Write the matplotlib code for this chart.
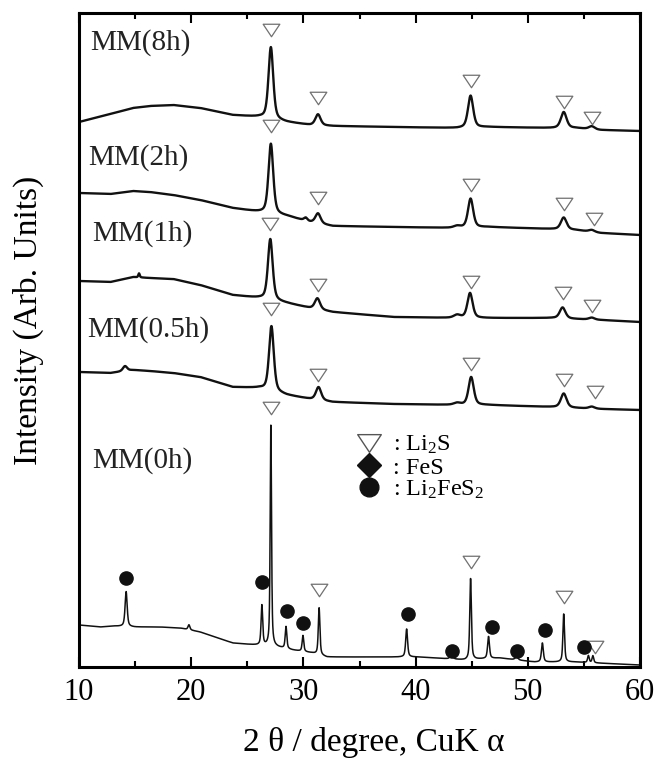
import numpy as np
import matplotlib.pyplot as plt
from matplotlib.lines import Line2D
from matplotlib.path import Path

plt.rcParams.update({
    "font.family": "Liberation Serif",
    "mathtext.fontset": "custom",
    "mathtext.rm": "Liberation Serif",
    "mathtext.it": "Liberation Serif:italic",
})

# ----------------
# data (intensity in arbitrary, stacked units)
# ----------------
samples = ["MM(8h)", "MM(2h)", "MM(1h)", "MM(0.5h)", "MM(0h)"]

# background control points for the milled samples
bg_x = [10, 12.8, 14.8, 16.3, 18.4, 20.8, 23.7, 26.1, 28.5, 30.6, 32.6, 38.0, 43.7, 46.5, 52.2, 54.3, 56.5, 60]
bg_8h = [545, 553, 559, 561, 562, 559, 552, 550, 545, 542, 541, 540, 539, 540, 539, 539, 537, 536]
bg_2h = [474, 473, 476, 475, 472, 467, 459, 455, 451, 445, 441, 440, 439, 440, 438, 437, 434, 432]
bg_1h = [386, 385, 390, 389, 388, 382, 372, 369, 364, 359, 355, 350, 349, 349, 349, 348, 347, 345]
bg_05h = [295, 294, 297, 296, 294, 290, 280, 279, 272, 268, 265, 263, 262, 262, 260, 259, 258, 257]

# background of the unmilled sample
bg0_x = [10, 11.9, 13.0, 15.0, 17.2, 19.0, 20.8, 23.7, 25.7, 27.6, 29.0, 30.8, 32.1, 38.6, 40.4, 44.4, 45.7, 47.5, 50.6, 54.2, 60]
bg_0h = [42, 40, 41, 40, 40, 39, 35, 24, 22, 20, 17, 14, 10, 10, 10, 7, 8, 9, 5, 5, 2]

# peaks: (2theta, height above background, fwhm)
peaks_8h = [(27.1, 72, 0.5), (31.3, 11, 0.55), (44.9, 32, 0.55), (53.2, 16, 0.6), (55.7, 3, 0.6)]
peaks_2h = [(27.1, 70, 0.5), (30.2, 3, 0.35), (31.3, 10, 0.55), (43.7, 2, 0.7), (44.9, 29, 0.55),
            (53.2, 12, 0.6), (55.7, 2, 0.6)]
peaks_1h = [(15.35, 4, 0.15), (27.05, 61, 0.5), (31.25, 11, 0.55), (43.7, 3, 0.7), (44.85, 25, 0.55),
            (53.1, 11, 0.6), (55.7, 2, 0.6)]
peaks_05h = [(14.1, 5, 0.45), (27.15, 65, 0.5), (31.35, 13, 0.55), (43.7, 2, 0.7), (44.95, 28, 0.55),
             (53.2, 14, 0.6), (55.7, 2, 0.6)]
peaks_0h = [(14.2, 35, 0.22), (19.8, 5, 0.2), (26.3, 40, 0.17), (27.1, 221, 0.14), (28.45, 22, 0.17),
            (29.96, 16, 0.17), (31.4, 47, 0.17), (39.2, 28, 0.2), (43.2, 4, 0.3), (44.9, 81, 0.17),
            (46.5, 22, 0.2), (49.0, 3, 0.3), (51.3, 19, 0.2), (53.2, 48, 0.17), (55.4, 7, 0.17),
            (55.8, 7, 0.17)]

# phase marks: Li2S (triangles) per sample, Li2FeS2 (circles) in MM(0h)
li2s_x = [[27.1, 31.3, 44.9, 53.2, 55.7],
          [27.1, 31.3, 44.9, 53.2, 55.9],
          [27.0, 31.3, 44.9, 53.1, 55.7],
          [27.1, 31.3, 44.9, 53.2, 56.0],
          [27.1, 31.4, 44.9, 53.2, 56.0]]
li2s_y = [[637, 569, 586, 565, 549],
          [541, 469, 482, 463, 448],
          [443, 382, 385, 374, 361],
          [358, 292, 303, 287, 275],
          [259, 77, 105, 70, 20]]
li2fes2_x = [14.2, 26.3, 28.5, 29.96, 39.3, 43.2, 46.8, 49.0, 51.5, 55.0]
li2fes2_y = [89, 85, 56, 44, 53, 16, 40, 16, 37, 20]

legend_labels = [": Li$_2$S", ": FeS", ": Li$_2$FeS$_2$"]


# function to build a pattern from its background points and peak list
# (pseudo-Voigt peaks, eta = lorentzian fraction)
def pattern(x, bgx, bgy, peaks, eta):
    y = np.interp(x, bgx, bgy)
    for pos, h, w in peaks:
        u = (x - pos) / (w / 2)
        lor = 1 / (1 + u ** 2)
        gau = np.exp(-np.log(2) * u ** 2)
        y = y + h * (eta * lor + (1 - eta) * gau)
    return y


fig = plt.figure(figsize=(6.57, 7.67), dpi=100)
ax = fig.add_axes([79 / 657, 100 / 767, 561 / 657, 654 / 767])

x = np.linspace(10, 60, 5001)
curves = [
    pattern(x, bg_x, bg_8h, peaks_8h, 0.5),
    pattern(x, bg_x, bg_2h, peaks_2h, 0.5),
    pattern(x, bg_x, bg_1h, peaks_1h, 0.5),
    pattern(x, bg_x, bg_05h, peaks_05h, 0.5),
    pattern(x, bg0_x, bg_0h, peaks_0h, 0.6),
]
widths = [1.7, 1.7, 1.7, 1.7, 1.1]
for y, lw in zip(curves, widths):
    ax.plot(x, y, color="#111111", lw=lw)

# open triangle, a bit flatter than the built-in one
tri = Path([(-1, 0.75), (1, 0.75), (0, -0.75), (-1, 0.75)],
           [Path.MOVETO, Path.LINETO, Path.LINETO, Path.CLOSEPOLY])
for tx, ty in zip(li2s_x, li2s_y):
    ax.plot(tx, ty, ls="none", marker=tri, ms=12, mfc="white", mec="#707070", mew=0.9)
ax.plot(li2fes2_x, li2fes2_y, ls="none", marker="o", ms=9.5, color="#111111")

# sample names
label_pos = [(10.98, 624), (10.8, 509), (11.16, 433), (10.7, 337), (11.16, 206)]
for name, (lx, ly) in zip(samples, label_pos):
    ax.text(lx, ly, name, fontsize=21, va="center", ha="left", color="#222222")

# phase legend
handles = [
    Line2D([], [], ls="none", marker=tri, ms=17, mfc="white", mec="#555555", mew=1.0),
    Line2D([], [], ls="none", marker="D", ms=12, color="#111111"),
    Line2D([], [], ls="none", marker="o", ms=13.5, color="#111111"),
]
ax.legend(handles, legend_labels, loc="upper left", bbox_to_anchor=(0.499, 0.356),
          frameon=False, fontsize=17.5, handlelength=0.8, handletextpad=0.6,
          labelspacing=0.0, borderpad=0, borderaxespad=0)

# axes styling
ax.set_xlim(10, 60)
ax.set_ylim(0, 654)
ax.set_xticks(range(10, 61, 10))
ax.set_xticks(range(15, 60, 10), minor=True)
ax.set_yticks([])
ax.tick_params(axis="x", which="both", direction="in", top=True, width=1.5, labelsize=22, pad=8)
ax.tick_params(axis="x", which="major", length=7)
ax.tick_params(axis="x", which="minor", length=4)
for s in ax.spines.values():
    s.set_linewidth(2.2)

fig.text(374 / 657, 1 - 742 / 767, "2 θ / degree, CuK α", fontsize=24, ha="center", va="center")
fig.text(28 / 657, 1 - 320 / 767, "Intensity (Arb. Units)", fontsize=24, rotation=90,
         ha="center", va="center")

fig.savefig("out.png", dpi=100)
